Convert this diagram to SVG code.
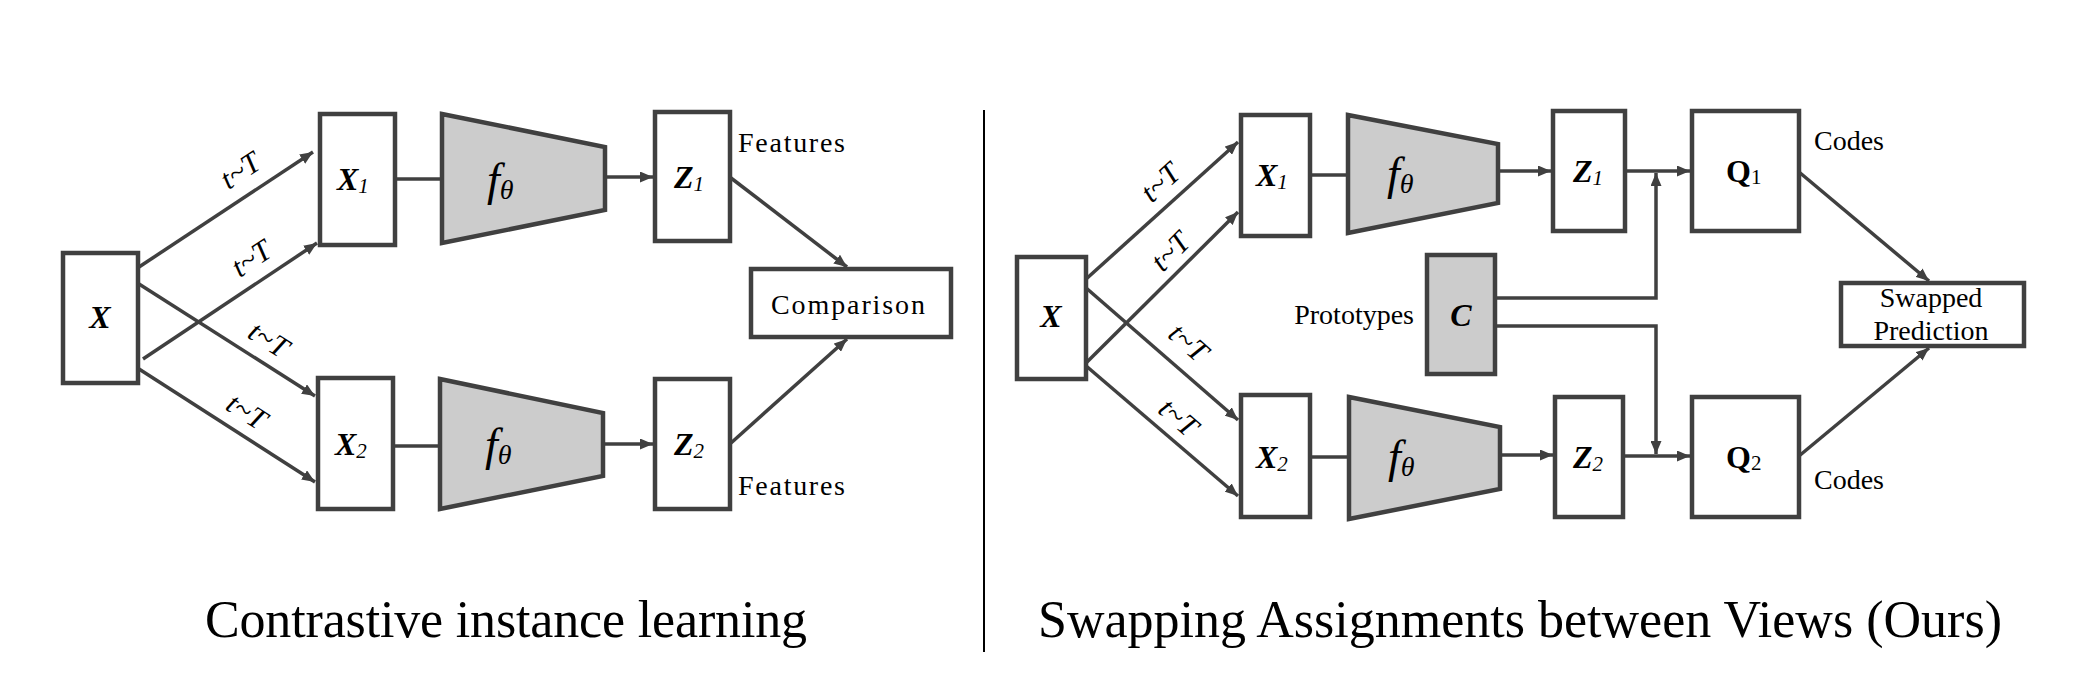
<svg xmlns="http://www.w3.org/2000/svg" width="2094" height="680" viewBox="0 0 2094 680">
<defs>
<marker id="ah" viewBox="0 0 13 11" refX="13" refY="5.5" markerWidth="13" markerHeight="11" markerUnits="userSpaceOnUse" orient="auto">
<path d="M0,0 L13,5.5 L0,11 z" fill="#404040"/>
</marker>
</defs>
<style>
.box{fill:#fff;stroke:#404040;stroke-width:4.5}
.gray{fill:#cccccc;stroke:#404040;stroke-width:4.5}
.ln{fill:none;stroke:#404040;stroke-width:3.5}
.ar{fill:none;stroke:#404040;stroke-width:3.5;marker-end:url(#ah)}
.m{font-family:"Liberation Serif","Times New Roman",serif;font-weight:bold;font-style:italic;font-size:32px;fill:#000}
.mq{font-family:"Liberation Serif","Times New Roman",serif;font-weight:bold;font-size:32px;fill:#000}
.sub{font-weight:normal;font-size:21px}
.f{font-family:"Liberation Serif","Times New Roman",serif;font-style:italic;font-size:46px;fill:#000}
.th{font-size:28px}
.lbl{font-family:"Liberation Serif","Times New Roman",serif;font-size:28px;fill:#000}
.t{font-family:"Liberation Serif","Times New Roman",serif;font-style:italic;font-size:30px;fill:#000}
.cap{font-family:"Liberation Serif","Times New Roman",serif;font-size:52px;fill:#000}
</style>

<g id="connectors">
<line class="ar" x1="139" y1="267" x2="313" y2="152"/>
<line class="ar" x1="143" y1="359" x2="317" y2="243"/>
<line class="ar" x1="139" y1="284" x2="315" y2="396"/>
<line class="ar" x1="139" y1="369" x2="315" y2="482"/>
<line class="ln" x1="396" y1="179" x2="442" y2="179"/>
<line class="ln" x1="394" y1="446" x2="440" y2="446"/>
<line class="ar" x1="605" y1="177" x2="653" y2="177"/>
<line class="ar" x1="603" y1="444" x2="653" y2="444"/>
<line class="ar" x1="731" y1="178" x2="847" y2="267"/>
<line class="ar" x1="731" y1="443" x2="847" y2="339"/>

<line class="ar" x1="1085" y1="280" x2="1238" y2="142"/>
<line class="ar" x1="1085" y1="364" x2="1238" y2="212"/>
<line class="ar" x1="1085" y1="287" x2="1238" y2="420"/>
<line class="ar" x1="1085" y1="365" x2="1238" y2="496"/>
<line class="ln" x1="1310" y1="175" x2="1348" y2="175"/>
<line class="ln" x1="1310" y1="457" x2="1349" y2="457"/>
<line class="ar" x1="1498" y1="171" x2="1551" y2="171"/>
<line class="ar" x1="1500" y1="455" x2="1553" y2="455"/>
<line class="ar" x1="1625" y1="171" x2="1690" y2="171"/>
<line class="ar" x1="1623" y1="456" x2="1690" y2="456"/>
<polyline class="ar" points="1495,298 1656,298 1656,173"/>
<polyline class="ar" points="1495,326 1656,326 1656,454"/>
<line class="ar" x1="1799" y1="172" x2="1929" y2="281"/>
<line class="ar" x1="1799" y1="456" x2="1929" y2="348"/>
</g>

<g id="aug-labels">
<text class="t" text-anchor="middle" dominant-baseline="central" transform="translate(240,170) rotate(-33.5)">t~T</text>
<text class="t" text-anchor="middle" dominant-baseline="central" transform="translate(251,258) rotate(-33.7)">t~T</text>
<text class="t" text-anchor="middle" dominant-baseline="central" transform="translate(269,339) rotate(32.5)">t~T</text>
<text class="t" text-anchor="middle" dominant-baseline="central" transform="translate(247,411) rotate(32.7)">t~T</text>
<text class="t" text-anchor="middle" dominant-baseline="central" transform="translate(1160,182) rotate(-42.4)">t~T</text>
<text class="t" text-anchor="middle" dominant-baseline="central" transform="translate(1170,251) rotate(-45)">t~T</text>
<text class="t" text-anchor="middle" dominant-baseline="central" transform="translate(1189,342) rotate(41.3)">t~T</text>
<text class="t" text-anchor="middle" dominant-baseline="central" transform="translate(1179,417) rotate(41)">t~T</text>
</g>

<!-- Left panel -->
<g id="L-X">
<rect class="box" x="63" y="253" width="75" height="130"/>
<text class="m" x="100" y="328" text-anchor="middle">X</text>
</g>
<g id="L-X1">
<rect class="box" x="320" y="114" width="75" height="131"/>
<text class="m" x="337" y="190">X<tspan class="sub" dy="3" font-style="italic">1</tspan></text>
</g>
<g id="L-X2">
<rect class="box" x="318" y="378" width="75" height="131"/>
<text class="m" x="335" y="455">X<tspan class="sub" dy="3" font-style="italic">2</tspan></text>
</g>
<g id="L-f1">
<polygon class="gray" points="442,114 605,147 605,210 442,243"/>
<text class="f" x="487" y="195">f<tspan class="th" dy="4">θ</tspan></text>
</g>
<g id="L-f2">
<polygon class="gray" points="440,379 603,413 603,476 440,509"/>
<text class="f" x="485" y="460">f<tspan class="th" dy="4">θ</tspan></text>
</g>
<g id="L-Z1">
<rect class="box" x="655" y="112" width="75" height="129"/>
<text class="m" x="674" y="188">Z<tspan class="sub" dy="3" font-style="italic">1</tspan></text>
<text class="lbl" x="738" y="152" textLength="107">Features</text>
</g>
<g id="L-Z2">
<rect class="box" x="655" y="379" width="75" height="130"/>
<text class="m" x="674" y="455">Z<tspan class="sub" dy="3" font-style="italic">2</tspan></text>
<text class="lbl" x="738" y="495" textLength="107">Features</text>
</g>
<g id="L-Comparison">
<rect class="box" x="751" y="269" width="200" height="68"/>
<text class="lbl" x="848" y="314" text-anchor="middle" textLength="154">Comparison</text>
</g>

<g id="divider">
<line x1="984" y1="110" x2="984" y2="652" stroke="#000" stroke-width="2"/>
</g>

<!-- Right panel -->
<g id="R-X">
<rect class="box" x="1017" y="257" width="69" height="122"/>
<text class="m" x="1051" y="327" text-anchor="middle">X</text>
</g>
<g id="R-X1">
<rect class="box" x="1241" y="115" width="69" height="121"/>
<text class="m" x="1256" y="186">X<tspan class="sub" dy="3" font-style="italic">1</tspan></text>
</g>
<g id="R-X2">
<rect class="box" x="1241" y="395" width="69" height="122"/>
<text class="m" x="1256" y="468">X<tspan class="sub" dy="3" font-style="italic">2</tspan></text>
</g>
<g id="R-f1">
<polygon class="gray" points="1348,115 1498,144 1498,203 1348,233"/>
<text class="f" x="1387" y="189">f<tspan class="th" dy="4">θ</tspan></text>
</g>
<g id="R-f2">
<polygon class="gray" points="1349,397 1500,427 1500,489 1349,519"/>
<text class="f" x="1388" y="472">f<tspan class="th" dy="4">θ</tspan></text>
</g>
<g id="R-C">
<rect class="gray" x="1427" y="255" width="68" height="119"/>
<text class="m" x="1461" y="326" text-anchor="middle">C</text>
<text class="lbl" x="1414" y="324" text-anchor="end">Prototypes</text>
</g>
<g id="R-Z1">
<rect class="box" x="1553" y="111" width="72" height="120"/>
<text class="m" x="1573" y="182">Z<tspan class="sub" dy="3" font-style="italic">1</tspan></text>
</g>
<g id="R-Z2">
<rect class="box" x="1555" y="397" width="68" height="120"/>
<text class="m" x="1573" y="468">Z<tspan class="sub" dy="3" font-style="italic">2</tspan></text>
</g>
<g id="R-Q1">
<rect class="box" x="1692" y="111" width="107" height="120"/>
<text class="mq" x="1726" y="182">Q<tspan class="sub" dy="2">1</tspan></text>
<text class="lbl" x="1814" y="150">Codes</text>
</g>
<g id="R-Q2">
<rect class="box" x="1692" y="397" width="107" height="120"/>
<text class="mq" x="1726" y="468">Q<tspan class="sub" dy="2">2</tspan></text>
<text class="lbl" x="1814" y="489">Codes</text>
</g>
<g id="R-SwappedPrediction">
<rect class="box" x="1841" y="283" width="183" height="63"/>
<text class="lbl" x="1931" y="307" text-anchor="middle">Swapped</text>
<text class="lbl" x="1931" y="340" text-anchor="middle">Prediction</text>
</g>

<g id="captions">
<text class="cap" x="205" y="637" textLength="602">Contrastive instance learning</text>
<text class="cap" x="1038" y="637" textLength="964">Swapping Assignments between Views (Ours)</text>
</g>
</svg>
